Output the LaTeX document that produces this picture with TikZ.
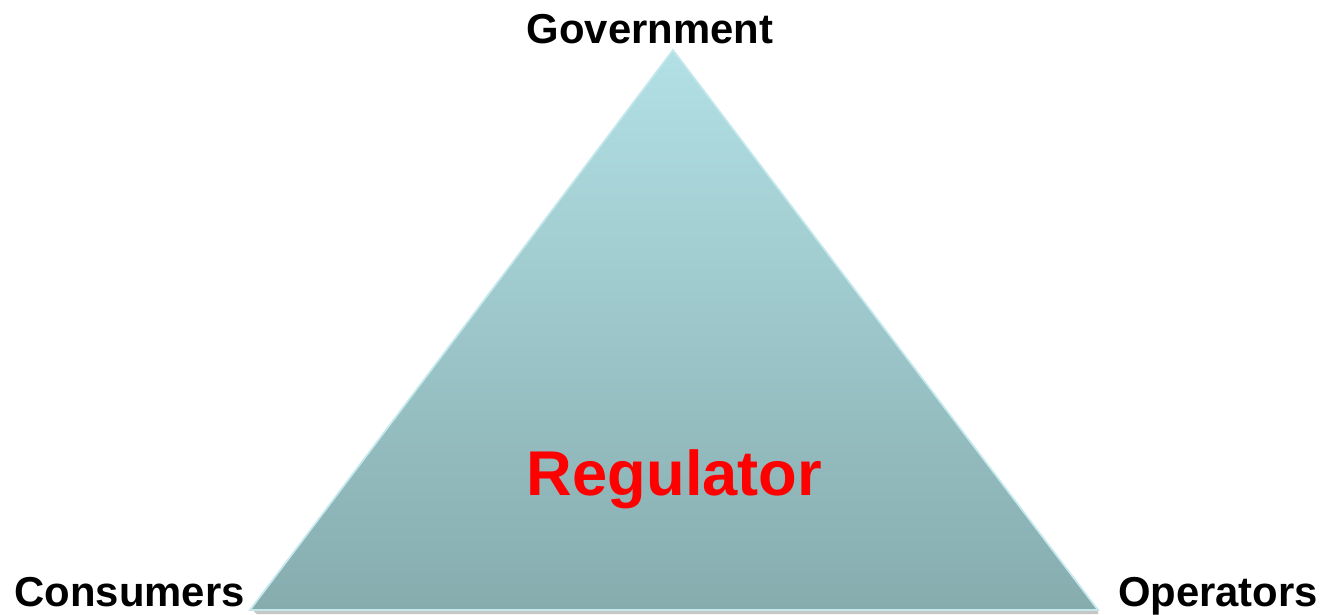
\documentclass[tikz,border=0pt]{standalone}
\usepackage{fontspec}
\setmainfont{Liberation Sans}
\usetikzlibrary{positioning}

\definecolor{tritop}{RGB}{178,224,229}
\definecolor{tribottom}{RGB}{134,172,174}
\definecolor{triedge}{RGB}{196,232,236}

\begin{document}
\begin{tikzpicture}[
  font=\bfseries,
  corner/.style={anchor=base,font=\fontsize{11.9}{14}\selectfont\bfseries,text=black,inner sep=0pt},
  centre/.style={anchor=base,font=\fontsize{18}{21}\selectfont\bfseries,text=red,inner sep=0pt}
]
\useasboundingbox (0,0) rectangle (13.25,6.14);
% corners of the triangle
\coordinate (top) at (6.73,5.64);
\coordinate (left) at (2.50,0.04);
\coordinate (right) at (10.98,0.04);
% soft shadow under the base
\fill[gray!45] ([xshift=2pt,yshift=-1.2pt]left) -- ([yshift=-1.2pt]right) -- ([yshift=0.6pt]right) -- ([yshift=0.6pt]left) -- cycle;
\shade[top color=tritop,bottom color=tribottom,draw=triedge,line width=0.5pt,line join=miter] (top) -- (right) -- (left) -- cycle;
\node[corner] (gov) at (6.50,5.71) {Government};
\node[corner] (cons) at (1.295,0.08) {Consumers};
\node[corner] (ops) at (12.18,0.08) {Operators};
\node[centre] (reg) at (6.745,1.19) {Regulator};
\end{tikzpicture}
\end{document}
